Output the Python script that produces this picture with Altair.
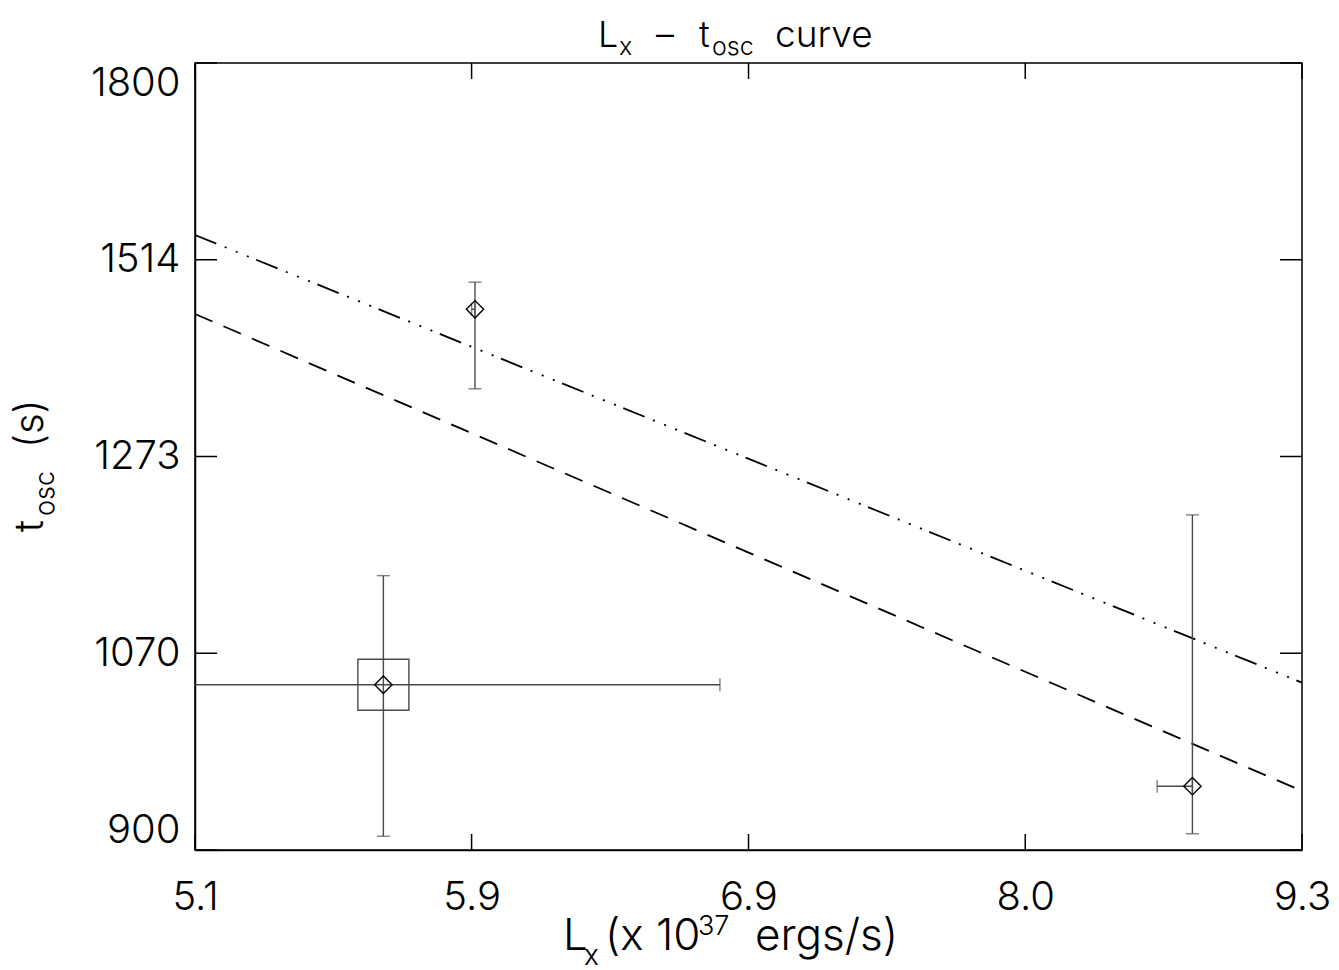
import altair as alt
import pandas as pd

# ---------------- data ----------------
LX = [5.649, 5.937, 8.763]          # L_x (x 10^37 erg/s)
LX_LO = [4.52, 5.926, 8.597]
LX_HI = [6.781, 5.937, 8.763]
TOSC = [1041, 1449, 952]            # t_osc (s)
TOSC_LO = [911, 1351, 913]
TOSC_HI = [1146, 1484, 1209]

BOX_X = [5.649]                     # boxed point
BOX_Y = [1041]

FIT1_X = [5.1, 9.3]                 # dash-dot-dot-dot line
FIT1_Y = [1547, 1043]
FIT2_X = [5.1, 9.3]                 # dashed line
FIT2_Y = [1443, 948]

X_TICKS = [5.1, 5.926, 6.887, 8.003, 9.3]
Y_TICKS = [900, 1070.3, 1272.8, 1513.6, 1800]

# ---------------- style ----------------
W, H = 1107, 787
FONT = "Inter"
FW = 300
INK = "black"
BAR = "#4a4a4a"
LAB = 40

xscale = alt.Scale(type="log", domain=[5.1, 9.3], nice=False, zero=False)
yscale = alt.Scale(type="log", domain=[900, 1800], nice=False, zero=False)

xaxis = alt.Axis(values=X_TICKS, format=".1f", title=None, grid=False,
                 ticks=False, tickSize=0, labelFlush=False, labelOverlap=False,
                 labelPadding=27, labelFontSize=LAB, labelFont=FONT,
                 labelFontWeight=FW, labelColor=INK,
                 domainColor=INK, domainWidth=1.5)
yaxis = alt.Axis(values=Y_TICKS, format=".0f", title=None, grid=False,
                 ticks=False, tickSize=0, labelFlush=True, labelFlushOffset=0,
                 labelOverlap=False, labelPadding=15, labelFontSize=LAB,
                 labelFont=FONT, labelFontWeight=FW, labelColor=INK,
                 domainColor=INK, domainWidth=1.5)


def X(field="x"):
    return alt.X(f"{field}:Q", scale=xscale, axis=xaxis)


def Y(field="y"):
    return alt.Y(f"{field}:Q", scale=yscale, axis=yaxis)


pts = pd.DataFrame({"x": LX, "xlo": LX_LO, "xhi": LX_HI,
                    "y": TOSC, "ylo": TOSC_LO, "yhi": TOSC_HI})

fit1 = alt.Chart(pd.DataFrame({"x": FIT1_X, "y": FIT1_Y})).mark_line(
    color=INK, strokeWidth=1.8, strokeDash=[23, 9, 2, 10, 2, 10, 2, 8]
).encode(x=X(), y=Y())
fit2 = alt.Chart(pd.DataFrame({"x": FIT2_X, "y": FIT2_Y})).mark_line(
    color=INK, strokeWidth=1.8, strokeDash=[19, 12]
).encode(x=X(), y=Y())

vbar = alt.Chart(pts).mark_rule(color=BAR, strokeWidth=1.4).encode(
    x=X(), y=Y("ylo"), y2="yhi:Q")
vcap_lo = alt.Chart(pts).mark_tick(color=BAR, orient="horizontal", size=13,
                                   thickness=1.4).encode(x=X(), y=Y("ylo"))
vcap_hi = alt.Chart(pts).mark_tick(color=BAR, orient="horizontal", size=13,
                                   thickness=1.4).encode(x=X(), y=Y("yhi"))
hbar = alt.Chart(pts).mark_rule(color=BAR, strokeWidth=1.4, clip=True).encode(
    x=X("xlo"), x2="xhi:Q", y=Y())
hcap_lo = alt.Chart(pts).mark_tick(color=BAR, orient="vertical", size=13,
                                   thickness=1.4, clip=True).encode(x=X("xlo"), y=Y())
hcap_hi = alt.Chart(pts).mark_tick(color=BAR, orient="vertical", size=13,
                                   thickness=1.4, clip=True).encode(x=X("xhi"), y=Y())

diamonds = alt.Chart(pts).mark_point(shape="diamond", size=300, filled=False,
                                     color=INK, strokeWidth=1.4, opacity=1).encode(x=X(), y=Y())
box = alt.Chart(pd.DataFrame({"x": BOX_X, "y": BOX_Y})).mark_point(
    shape="square", size=2601, filled=False, color=BAR, strokeWidth=1.4, opacity=1
).encode(x=X(), y=Y())

xt = pd.DataFrame({"x": X_TICKS})
yt = pd.DataFrame({"y": Y_TICKS})
xt_bot = alt.Chart(xt).mark_rule(color=INK, strokeWidth=1.5).encode(
    x=X(), y=alt.value(H), y2=alt.value(H - 16))
xt_top = alt.Chart(xt).mark_rule(color=INK, strokeWidth=1.5).encode(
    x=X(), y=alt.value(0), y2=alt.value(16))
yt_left = alt.Chart(yt).mark_rule(color=INK, strokeWidth=1.5).encode(
    y=Y(), x=alt.value(0), x2=alt.value(22))
yt_right = alt.Chart(yt).mark_rule(color=INK, strokeWidth=1.5).encode(
    y=Y(), x=alt.value(W - 22), x2=alt.value(W))


def txt(s, x, y, size, angle=0):
    return alt.Chart(pd.DataFrame({"t": [s]})).mark_text(
        align="left", baseline="alphabetic", font=FONT, fontWeight=FW,
        fontSize=size, color=INK, angle=angle
    ).encode(x=alt.value(x), y=alt.value(y), text="t:N")


texts = [
    # title  L_x – t_osc curve
    txt("L", 403, -16, 36), txt("x", 424, -8, 25), txt("–", 461, -16, 36),
    txt("t", 504, -16, 36), txt("osc", 517, -8, 25), txt("curve", 580, -16, 37),
    # x title  L_x (x 10^37 ergs/s)
    txt("L", 368, 887, 44), txt("x", 389, 902, 28), txt("(x 10", 410, 887, 44),
    txt("37", 503, 872, 27), txt("ergs/s)", 560, 887, 44),
    # y title  t_osc (s)
    txt("t", -152, 469, 40, angle=270), txt("osc", -141, 453, 27, angle=270),
    txt("(s)", -152, 385, 40, angle=270),
]

chart = alt.layer(
    fit1, fit2, box, hbar, hcap_lo, hcap_hi, vbar, vcap_lo, vcap_hi, diamonds,
    xt_bot, xt_top, yt_left, yt_right, *texts
).properties(
    width=W, height=H,
    padding={"left": 187, "top": 55, "right": 29, "bottom": 120},
    autosize=alt.AutoSizeParams(type="none"),
    background="white",
).configure_view(stroke=INK, strokeWidth=1.5)

chart.save("out.html", embed_options={"renderer": "svg", "actions": False})
